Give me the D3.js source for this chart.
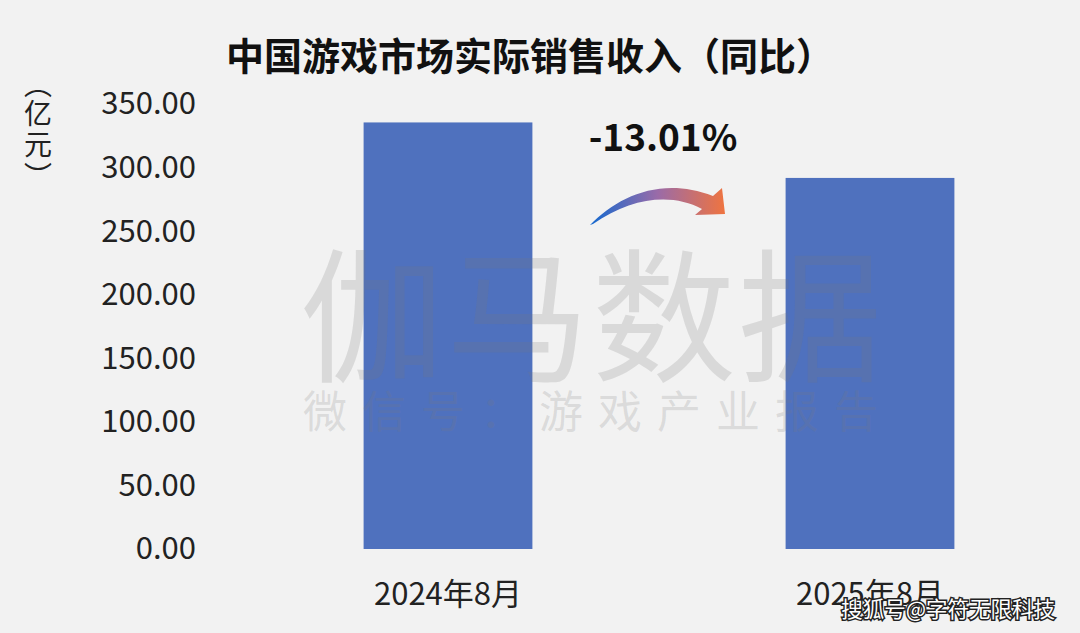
<!DOCTYPE html>
<html>
<head>
<meta charset="utf-8">
<script src="https://cdn.jsdelivr.net/npm/d3@7"></script>
<style>
  body { margin: 0; background: #f2f2f2; }
  svg text { font-family: "Noto Sans CJK SC", "Noto Sans", sans-serif; }
</style>
</head>
<body>
<script>
// chart data
var periods = ["2024年8月", "2025年8月"];
var revenue = [335.5, 291.85];
var yTicks = [0, 50, 100, 150, 200, 250, 300, 350];
var changeLabel = "-13.01%";
var titleText = "中国游戏市场实际销售收入（同比）";
var unitText = ["（", "亿", "元", "）"];

var width = 1080, height = 633;

var svg = d3.select("body").append("svg")
    .attr("width", width)
    .attr("height", height);

svg.append("rect").attr("width", width).attr("height", height).attr("fill", "#f2f2f2");

// scales
let x = d3.scaleBand()
    .domain(periods)
    .range([237, 1081])
    .paddingInner(0.6)
    .paddingOuter(0.3);

let y = d3.scaleLinear()
    .domain([0, 350])
    .range([549, 104]);

// title
svg.append("text")
    .attr("x", 530).attr("y", 70)
    .attr("text-anchor", "middle")
    .attr("font-size", 38).attr("font-weight", "bold")
    .attr("fill", "#111")
    .text(titleText);

// unit label, vertical text (parens get their vertical forms)
let unitY = [84, 113, 144, 176];
svg.selectAll(".unit")
    .data(unitText)
    .enter()
    .append("text")
    .attr("class", "unit")
    .attr("x", 38)
    .attr("y", (d, i) => unitY[i])
    .style("writing-mode", "vertical-rl")
    .attr("text-anchor", "middle")
    .attr("font-size", 28)
    .attr("fill", "#222")
    .text(d => d);

// y axis (labels only)
let yAxis = d3.axisLeft(y)
    .tickValues(yTicks)
    .tickFormat(d3.format(".2f"))
    .tickSize(0)
    .tickPadding(0);

let yg = svg.append("g")
    .attr("transform", "translate(196,0)")
    .call(yAxis);
yg.select(".domain").remove();
yg.selectAll("text")
    .attr("font-size", 31)
    .attr("fill", "#222")
    .attr("font-family", "\"Noto Sans CJK SC\", sans-serif");

// x axis labels
let xAxis = d3.axisBottom(x).tickSize(0).tickPadding(0);
let xg = svg.append("g")
    .attr("transform", "translate(0,583)")
    .call(xAxis);
xg.select(".domain").remove();
xg.selectAll("text")
    .attr("font-size", 31)
    .attr("fill", "#222")
    .attr("font-family", "\"Noto Sans CJK SC\", sans-serif");

// bars
svg.selectAll(".bar")
    .data(revenue)
    .enter()
    .append("rect")
    .attr("class", "bar")
    .attr("x", (d, i) => x(periods[i]))
    .attr("y", d => y(d))
    .attr("width", x.bandwidth())
    .attr("height", d => y(0) - y(d))
    .attr("fill", "#4f71be");

// change label
svg.append("text")
    .attr("x", 663).attr("y", 151)
    .attr("text-anchor", "middle")
    .attr("font-size", 37).attr("font-weight", "bold")
    .attr("fill", "#111")
    .text(changeLabel);

// gradient arrow
let defs = svg.append("defs");
let grad = defs.append("linearGradient")
    .attr("id", "arrowGrad")
    .attr("x1", "0%").attr("x2", "100%").attr("y1", "0%").attr("y2", "0%");
grad.append("stop").attr("offset", "0%").attr("stop-color", "#1469cf");
grad.append("stop").attr("offset", "50%").attr("stop-color", "#9a6ba8");
grad.append("stop").attr("offset", "100%").attr("stop-color", "#ef7440");

svg.append("path")
    .attr("d", "M590,225 C618,196 662,176 713,196 L722,188 L725,214 L695,215 L702,209 C672,193 632,197 593,224 Z")
    .attr("fill", "url(#arrowGrad)");

// watermark
svg.append("text")
    .attr("x", 592).attr("y", 371)
    .attr("text-anchor", "middle")
    .attr("font-size", 144)
    .attr("letter-spacing", 2)
    .attr("fill", "#7a7a7a").attr("fill-opacity", 0.2)
    .text("伽马数据");

svg.append("text")
    .attr("x", 598).attr("y", 428)
    .attr("text-anchor", "middle")
    .attr("font-size", 44)
    .attr("letter-spacing", 15)
    .attr("fill", "#7a7a7a").attr("fill-opacity", 0.2)
    .text("微信号：游戏产业报告");

// source stamp
svg.append("text")
    .attr("x", 1055).attr("y", 617)
    .attr("text-anchor", "end")
    .attr("font-size", 21.5)
    .attr("fill", "#fff")
    .attr("stroke", "#222").attr("stroke-width", 3)
    .attr("paint-order", "stroke")
    .text("搜狐号@字符无限科技");
</script>
</body>
</html>
